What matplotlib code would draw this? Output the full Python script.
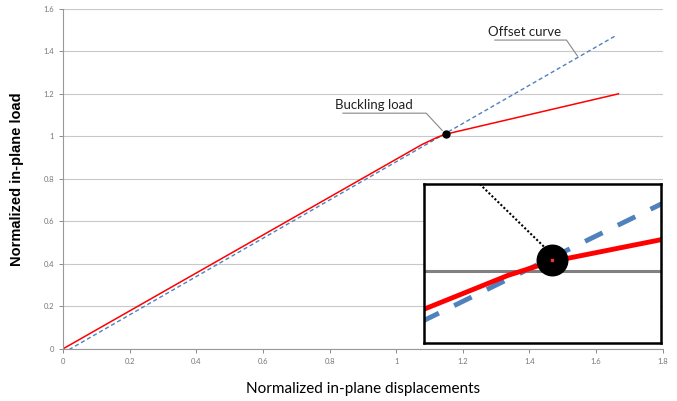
import numpy as np
from matplotlib import pyplot as plt

red_x = [0, 1.078, 1.124, 1.148, 1.667]
red_y = [0, 0.962, 0.996, 1.01, 1.2]
blue_x = [0, 1.658]
blue_y = [-0.02, 1.473]
buck_x = 1.148
buck_y = 1.012
x_ticks = [0, 0.2, 0.4, 0.6, 0.8, 1, 1.2, 1.4, 1.6, 1.8]
x_labels = ['0', '0.2', '0.4', '0.6', '0.8', '1', '1.2', '1.4', '1.6', '1.8']
y_ticks = [0, 0.2, 0.4, 0.6, 0.8, 1, 1.2, 1.4, 1.6]
y_labels = ['0', '0.2', '0.4', '0.6', '0.8', '1', '1.2', '1.4', '1.6']

plt.rcParams['font.family'] = ['Lato', 'DejaVu Sans']

fig = plt.figure(figsize=(6.77, 4.01), dpi=100)
ax = fig.add_axes([0.093, 0.130, 0.886, 0.848])

ax.plot(blue_x, blue_y, color='#4f81bd', lw=1.0, dashes=(3, 2))
ax.plot(red_x, red_y, color='#ff0000', lw=1.1)
ax.plot([buck_x], [buck_y], 'o', color='black', ms=5)

ax.set_xlim(0, 1.8)
ax.set_ylim(0, 1.6)
ax.set_xticks(x_ticks)
ax.set_xticklabels(x_labels)
ax.set_yticks(y_ticks)
ax.set_yticklabels(y_labels)
ax.tick_params(labelsize=5.5, colors='#777777', length=3, width=0.6)
ax.yaxis.grid(True, color='#c8c8c8', lw=0.8)
ax.set_axisbelow(True)
for s in ['top', 'right']:
    ax.spines[s].set_visible(False)
for s in ['left', 'bottom']:
    ax.spines[s].set_color('#999999')
    ax.spines[s].set_linewidth(0.8)

ax.set_xlabel('Normalized in-plane displacements', fontsize=11, labelpad=12)
ax.set_ylabel('Normalized in-plane load', fontsize=10.5, fontweight='bold',
              labelpad=14, family=['Liberation Sans', 'DejaVu Sans'])

# annotations with underline leader
ax.text(0.934, 1.118, 'Buckling load', fontsize=9.5, ha='center', va='bottom',
        color='#222222')
ax.plot([0.84, 1.09, 1.138], [1.109, 1.109, 1.028], color='#888888', lw=0.8)
ax.text(1.384, 1.462, 'Offset curve', fontsize=9.5, ha='center', va='bottom',
        color='#222222')
ax.plot([1.296, 1.511, 1.544], [1.453, 1.453, 1.378], color='#888888', lw=0.8)

# inset zoom
ins = fig.add_axes([424 / 677, 1 - 343 / 401, 237 / 677, 159 / 401])
ins.plot(blue_x, blue_y, color='#4f81bd', lw=3.5, dashes=(4, 3.5))
ins.plot(red_x, red_y, color='#ff0000', lw=3.5)
ins.axhline(1.0, color='#808080', lw=2.2, zorder=1)
ins.plot([buck_x], [buck_y], 'o', color='black', ms=22, zorder=5)
ins.plot([buck_x], [buck_y], 's', color='#ff3030', ms=2, zorder=6)
ins.plot([0.235, 0.51], [1.0, 0.6], transform=ins.transAxes, color='black',
         lw=1.5, ls=(0, (1, 1)), zorder=4)
ins.set_xlim(1.078, 1.208)
ins.set_ylim(0.928, 1.088)
ins.set_xticks([])
ins.set_yticks([])
for s in ins.spines.values():
    s.set_linewidth(1.8)
    s.set_color('black')

plt.savefig('out.png')
